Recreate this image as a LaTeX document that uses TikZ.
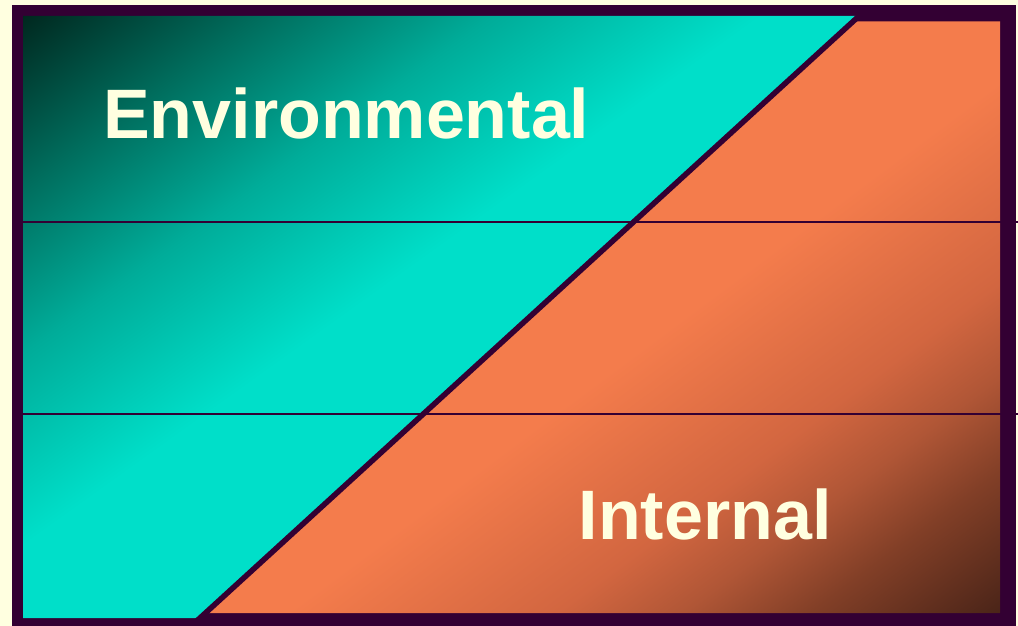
\documentclass[tikz,border=0pt]{standalone}
\usepackage{fontspec}
\setmainfont{Liberation Sans}
\definecolor{bgcream}{HTML}{FFFFE0}
\definecolor{framec}{HTML}{330033}
\definecolor{txtc}{HTML}{FFFFE0}
\definecolor{tealA}{HTML}{00281F}
\definecolor{tealB}{HTML}{006C5C}
\definecolor{tealC}{HTML}{00AC99}
\definecolor{tealD}{HTML}{00DFC9}
\definecolor{oraA}{HTML}{F47C4C}
\definecolor{oraB}{HTML}{D26640}
\definecolor{oraC}{HTML}{B05636}
\definecolor{oraD}{HTML}{823F27}
\definecolor{oraE}{HTML}{4A2418}
\pgfdeclarehorizontalshading{tealsh}{100bp}{color(0bp)=(tealA); color(25bp)=(tealA); color(32bp)=(tealB); color(39bp)=(tealC); color(47bp)=(tealD); color(100bp)=(tealD)}
\pgfdeclarehorizontalshading{orangesh}{100bp}{color(0bp)=(oraA); color(52.5bp)=(oraA); color(61bp)=(oraB); color(65bp)=(oraC); color(69bp)=(oraD); color(75bp)=(oraE); color(100bp)=(oraE)}
\tikzset{
  lbl/.style={text=txtc, inner sep=0pt, anchor=base west, font=\fontsize{70}{84}\selectfont\bfseries},
  divline/.style={draw=framec, line width=5.5pt},
  hline/.style={draw=framec, line width=2.4pt}
}
\begin{document}
\begin{tikzpicture}[x=1pt,y=-1pt]
\useasboundingbox (0,0) rectangle (1018,626);
\fill[bgcream] (0,0) rectangle (1018,626);
\fill[framec] (12,5) rectangle (1016,627);
% left (environmental) region
\begin{scope}
  \clip (23,16) -- (862,16) -- (198,618) -- (23,618) -- cycle;
  \begin{scope}[transform canvas={cm={8.39,-6.02,8.39,6.02,(23,16)}}]
    \shade[shading=tealsh, shading angle=0] (0,-50) rectangle (100,50);
  \end{scope}
\end{scope}
% right (internal) region
\begin{scope}
  \clip (853,21.5) -- (1000,21.5) -- (1000,613) -- (205.5,613) -- cycle;
  \begin{scope}[transform canvas={cm={7.945,-5.915,7.945,5.915,(205.5,21.5)}}]
    \shade[shading=orangesh, shading angle=0] (0,-50) rectangle (100,50);
  \end{scope}
\end{scope}
% dividing diagonal
\coordinate (dtop) at (864.5,11);
\coordinate (dbot) at (194.5,623);
\draw[divline] (dtop) -- (dbot);
% horizontal lines
\coordinate (h1l) at (12,221.7);
\coordinate (h1r) at (1018,221.7);
\coordinate (h2l) at (12,414);
\coordinate (h2r) at (1018,414);
\draw[hline] (h1l) -- (h1r);
\draw[hline] (h2l) -- (h2r);
% labels
\node[lbl] (env) at (103,138) {Environmental};
\node[lbl] (int) at (578.5,539) {Internal};
\end{tikzpicture}
\end{document}
